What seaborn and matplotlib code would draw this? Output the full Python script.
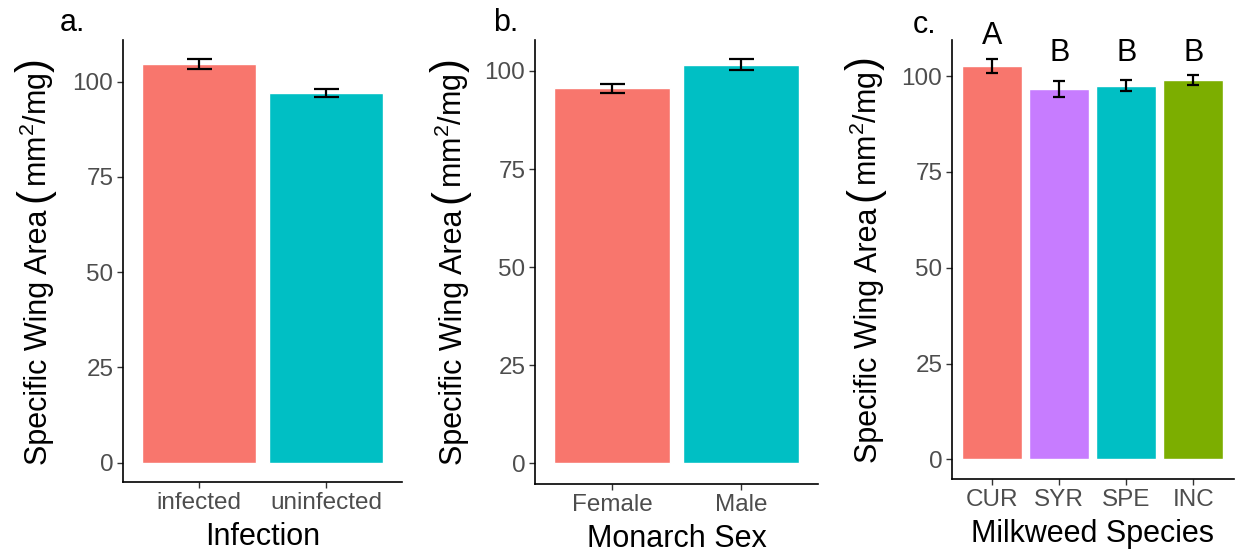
import matplotlib
matplotlib.use("Agg")
import matplotlib.pyplot as plt
import seaborn as sns

sns.set_style("white")
plt.rcParams["font.family"] = ["Liberation Sans", "DejaVu Sans"]
plt.rcParams["mathtext.fontset"] = "custom"
plt.rcParams["mathtext.rm"] = "Liberation Sans"
plt.rcParams["mathtext.it"] = "Liberation Sans:italic"
plt.rcParams["mathtext.bf"] = "Liberation Sans:bold"

# Panel a: infection status
infection_cats = ["infected", "uninfected"]
infection_mean = [104.6, 97.0]
infection_se = [1.35, 1.1]

# Panel b: monarch sex
sex_cats = ["Female", "Male"]
sex_mean = [95.65, 101.65]
sex_se = [1.15, 1.4]

# Panel c: milkweed species with post-hoc groupings
species_cats = ["CUR", "SYR", "SPE", "INC"]
species_mean = [102.55, 96.55, 97.45, 98.9]
species_se = [1.85, 2.1, 1.45, 1.3]
species_letters = ["A", "B", "B", "B"]
letter_y = [110.4, 106.1, 106.1, 106.1]

yticks = [0, 25, 50, 75, 100]

RED, CYAN, PURPLE, GREEN = "#F8766D", "#00BFC4", "#C77CFF", "#7CAE00"

W, H = 1235, 552
fig = plt.figure(figsize=(W / 100, H / 100), dpi=100)


def px_axes(x0, x1, ytop, ybot):
    return fig.add_axes([x0 / W, (H - ybot) / H, (x1 - x0) / W, (ybot - ytop) / H])


TICK_FS = 17.5
TITLE_FS = 22
PAREN_FS = 30


def panel(ax, cats, means, ses, colors, xlabel, ylim, capsize):
    sns.barplot(x=cats, y=means, hue=cats, palette=colors, width=0.9,
                saturation=1, legend=False, ax=ax, errorbar=None)
    ax.errorbar(x=list(range(len(cats))), y=means, yerr=ses, fmt="none",
                ecolor="black", elinewidth=1.6, capsize=capsize,
                capthick=1.6, zorder=5)
    n = len(cats)
    ax.set_xlim(-0.6, n - 0.4)
    ax.set_ylim(*ylim)
    ax.set_yticks(yticks)
    ax.set_yticklabels([str(v) for v in yticks])
    for s in ["top", "right"]:
        ax.spines[s].set_visible(False)
    for s in ["left", "bottom"]:
        ax.spines[s].set_color("black")
        ax.spines[s].set_linewidth(1.2)
    ax.tick_params(axis="both", which="major", length=4.5, width=1.0,
                   color="#333333", labelcolor="#4D4D4D",
                   labelsize=TICK_FS, pad=2.5, bottom=True, left=True)
    ax.set_xlabel(xlabel, fontsize=TITLE_FS, color="black", labelpad=6)
    ax.set_ylabel("")
    ax.grid(False)


ax_a = px_axes(123, 402, 40, 482.3)
panel(ax_a, infection_cats, infection_mean, infection_se, [RED, CYAN],
      "Infection", (-5.14, 110.9), 9)

ax_b = px_axes(535, 818, 40, 484)
panel(ax_b, sex_cats, sex_mean, sex_se, [RED, CYAN],
      "Monarch Sex", (-5.28, 107.9), 9)

ax_c = px_axes(952, 1233.5, 40, 479.3)
panel(ax_c, species_cats, species_mean, species_se,
      [RED, PURPLE, CYAN, GREEN], "Milkweed Species", (-5.2, 109.4), 4.5)
for i, (lab, yv) in enumerate(zip(species_letters, letter_y)):
    ax_c.text(i, yv, lab, ha="center", va="center", fontsize=TITLE_FS,
              color="black", clip_on=False)

# y-axis titles: built from pieces so the brackets can be taller than the text
renderer = fig.canvas.get_renderer()
ylabel_pieces = [("Specific Wing Area", TITLE_FS, 7, 0),
                 ("(", PAREN_FS, 1, -1.5),
                 (r"mm$^{2}$/mg", TITLE_FS, 1, 0),
                 (")", PAREN_FS, 0, -1.5)]


def draw_ylabel(x_base, yc):
    texts, lengths = [], []
    for s, fs, gap, dx in ylabel_pieces:
        t = fig.text(0, 0, s, fontsize=fs, rotation=90, rotation_mode="anchor",
                     ha="left", va="baseline", color="black")
        texts.append(t)
        lengths.append(t.get_window_extent(renderer).height)
    total = sum(lengths) + sum(p[2] for p in ylabel_pieces)
    y = yc - total / 2
    for t, L, (s, fs, gap, dx) in zip(texts, lengths, ylabel_pieces):
        t.set_position(((x_base + dx) / W, y / H))
        y += L + gap


for xb, (yt, yb) in [(47, (40, 482.3)), (462, (40, 484)), (877, (40, 479.3))]:
    draw_ylabel(xb, H - (yt + yb) / 2)

# panel tags
for x0, yb, tag in [(60, 31, "a."), (493, 31, "b."), (913, 33, "c.")]:
    fig.text(x0 / W, 1 - yb / H, tag, ha="left", va="baseline",
             fontsize=TITLE_FS, color="black")

fig.savefig("out.png", dpi=100)
